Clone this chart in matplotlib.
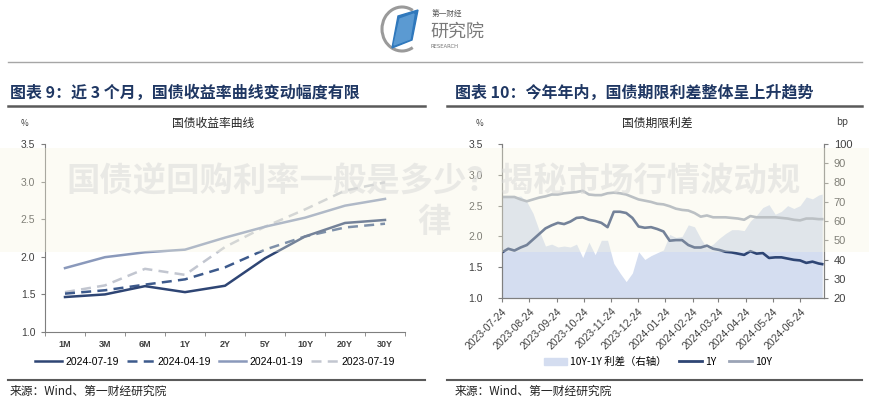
import matplotlib
matplotlib.use("Agg")
import matplotlib.pyplot as plt
import matplotlib.dates as mdates
from matplotlib.patches import Rectangle, Polygon, Patch, Arc
from matplotlib.lines import Line2D
import pandas as pd

plt.rcParams['font.family'] = ['Noto Sans CJK SC', 'DejaVu Sans']

# ---------------- data: left chart ----------------
tenors = ["1M", "3M", "6M", "1Y", "2Y", "5Y", "10Y", "20Y", "30Y"]
curve_20240719 = [1.465, 1.50, 1.61, 1.53, 1.615, 1.98, 2.27, 2.45, 2.49]
curve_20240419 = [1.51, 1.555, 1.63, 1.70, 1.86, 2.095, 2.27, 2.39, 2.44]
curve_20240119 = [1.85, 1.995, 2.06, 2.095, 2.255, 2.40, 2.52, 2.68, 2.77]
curve_20230719 = [1.53, 1.62, 1.84, 1.76, 2.13, 2.40, 2.63, 2.88, 2.99]
curve_labels = ["2024-07-19", "2024-04-19", "2024-01-19", "2023-07-19"]

# ---------------- data: right chart (weekly readings) ----------------
dates = pd.date_range("2023-07-24", periods=52, freq="7D").append(pd.DatetimeIndex(["2024-07-19"]))
y1 = [1.74, 1.80, 1.77, 1.82, 1.86, 1.95, 2.04, 2.13, 2.18, 2.22, 2.20, 2.24, 2.30,
      2.31, 2.27, 2.25, 2.22, 2.15, 2.40, 2.40, 2.38, 2.30, 2.16, 2.14, 2.15, 2.12,
      2.08, 1.93, 1.94, 1.94, 1.86, 1.82, 1.82, 1.85, 1.80, 1.78, 1.75, 1.74, 1.72,
      1.70, 1.76, 1.72, 1.73, 1.65, 1.66, 1.66, 1.64, 1.62, 1.61, 1.57, 1.59, 1.56, 1.55]
y10 = [2.64, 2.64, 2.64, 2.60, 2.57, 2.60, 2.63, 2.65, 2.68, 2.68, 2.70, 2.71, 2.72,
       2.74, 2.68, 2.67, 2.67, 2.70, 2.71, 2.70, 2.68, 2.64, 2.60, 2.58, 2.56, 2.53,
       2.52, 2.49, 2.45, 2.43, 2.42, 2.38, 2.32, 2.34, 2.31, 2.31, 2.31, 2.30, 2.29,
       2.27, 2.33, 2.31, 2.31, 2.31, 2.31, 2.30, 2.29, 2.27, 2.26, 2.29, 2.29, 2.28, 2.28]
spread_bp = [73, 73, 72.5, 73, 70, 64, 55, 47, 48, 46.5, 47, 46.5, 48, 41, 49, 42.5,
             50, 50, 38, 33, 28.5, 33, 44, 40, 42, 43.5, 45, 53, 51.5, 52, 58, 57, 51,
             46, 48, 51, 53.5, 55.5, 55.5, 55, 60, 63, 67, 68.5, 63.5, 65, 68, 66.5,
             68, 72.5, 71.5, 73.5, 74]
month_ticks = pd.date_range("2023-07-01", "2024-06-30", freq="MS") + pd.Timedelta(days=23)

# ---------------- styles ----------------
NAVY = "#2E4574"
MID = "#8A99BB"
LIGHT = "#C2C6D0"
GRID_C = "#7F7F7F"
TXT = "#404040"
AREA = "#D4DDF0"
TEN = "#9BA4B6"
num_font = "Liberation Sans"

W, H = 870, 400
fig = plt.figure(figsize=(W / 100, H / 100), dpi=100)
fig.patch.set_facecolor("white")

def fx(x):
    return x / W

def fy(y):
    return 1 - y / H

# ---------------- logo ----------------
logo_ax = fig.add_axes([fx(380), fy(54), fx(115), 50 / H])
logo_ax.set_xlim(0, 115)
logo_ax.set_ylim(0, 50)
logo_ax.axis("off")
logo_ax.add_patch(Arc((22, 25), 40, 44, theta1=60, theta2=300, color="#9A9A9A", lw=2.2))
logo_ax.add_patch(Polygon([[12, 6], [32, 14], [38, 44], [18, 38]], closed=True, color="#2F78BC"))
logo_ax.add_patch(Polygon([[14, 9], [30, 15], [34, 40], [20, 35]], closed=True, color="#5B9AD2"))
logo_ax.text(52, 40, "第一财经", fontsize=5.5, color="#555555", va="center")
logo_ax.text(50, 22, "研究院", fontsize=13, color="#7A7A7A", va="center")
logo_ax.text(51, 7, "RESEARCH", fontsize=3.8, color="#777777", va="center", family="DejaVu Sans")

# separator line
fig.add_artist(Line2D([fx(8), fx(862)], [fy(62), fy(62)], color="#A6A6A6", lw=1.0))

# titles
fig.text(fx(10), fy(93), "图表 9：近 3 个月，国债收益率曲线变动幅度有限", fontsize=11.5,
         fontweight="bold", color="#1F3763", va="center")
fig.text(fx(455), fy(93), "图表 10：今年年内，国债期限利差整体呈上升趋势", fontsize=11.5,
         fontweight="bold", color="#1F3763", va="center")
for x0, x1 in [(8, 425), (447, 862)]:
    fig.add_artist(Line2D([fx(x0), fx(x1)], [fy(106), fy(106)], color="#5A5A5A", lw=1.8))
    fig.add_artist(Line2D([fx(x0), fx(x1)], [fy(380), fy(380)], color="#5A5A5A", lw=1.5))

fig.text(fx(10), fy(391), "来源：Wind、第一财经研究院", fontsize=8.5, color="#222222", va="center")
fig.text(fx(455), fy(391), "来源：Wind、第一财经研究院", fontsize=8.5, color="#222222", va="center")

# ---------------- left chart ----------------
ax = fig.add_axes([fx(45), fy(332), fx(360), 188 / H])
ax.set_facecolor("none")
xs = list(range(len(tenors)))
ax.plot(xs, curve_20240719, color=NAVY, lw=1.8, label=curve_labels[0], zorder=5)
ax.plot(xs, curve_20240419, color="#3D5A8C", lw=1.8, ls=(0, (4, 2.5)), label=curve_labels[1], zorder=4)
ax.plot(xs, curve_20240119, color=MID, lw=1.8, label=curve_labels[2], zorder=3)
ax.plot(xs, curve_20230719, color=LIGHT, lw=1.8, ls=(0, (4, 2.5)), label=curve_labels[3], zorder=2)
ax.set_xlim(-0.5, len(tenors) - 0.5)
ax.set_ylim(1.0, 3.5)
ax.set_yticks([1.0, 1.5, 2.0, 2.5, 3.0, 3.5])
ax.set_yticklabels([f"{v:.1f}" for v in [1.0, 1.5, 2.0, 2.5, 3.0, 3.5]], fontsize=7.5,
                   color=TXT, family=num_font)
ax.set_xticks(xs)
ax.set_xticklabels(tenors, fontsize=6.5, color=TXT, family=num_font, fontweight="bold")
ax.set_xticks([i - 0.5 for i in range(len(tenors) + 1)], minor=True)
ax.tick_params(axis="x", which="major", length=0, pad=6)
ax.tick_params(axis="x", which="minor", length=3, color=GRID_C, direction="out")
ax.tick_params(axis="y", length=3, color=GRID_C, pad=4)
for s in ["top", "right"]:
    ax.spines[s].set_visible(False)
for s in ["left", "bottom"]:
    ax.spines[s].set_color(GRID_C)
    ax.spines[s].set_linewidth(0.8)
fig.text(fx(213), fy(123), "国债收益率曲线", fontsize=8.5, color="#222222", ha="center", va="center")
fig.text(fx(25), fy(124), "%", fontsize=6, color=TXT, ha="center", va="center")
ax.legend(loc="center", bbox_to_anchor=(fx(215), fy(362)), bbox_transform=fig.transFigure,
          ncol=4, frameon=False, handlelength=2.6, handletextpad=0.3,
          columnspacing=0.8, prop={"family": num_font, "size": 7.5})

# ---------------- right chart ----------------
axr = fig.add_axes([fx(502), fy(298), fx(322), 154 / H])
ax2 = axr.twinx()
axr.set_zorder(ax2.get_zorder() + 1)
axr.patch.set_visible(False)
ax2.set_facecolor("none")
ax2.fill_between(dates, spread_bp, 20, color=AREA, lw=0, label="10Y-1Y 利差（右轴）")
ax2.set_ylim(20, 100)
ax2.set_yticks(range(20, 101, 10))
ax2.set_yticklabels([str(v) for v in range(20, 101, 10)], fontsize=8, color=TXT, family=num_font)
axr.plot(dates, y1, color=NAVY, lw=1.9, label="1Y")
axr.plot(dates, y10, color=TEN, lw=1.9, label="10Y")
axr.set_ylim(1.0, 3.5)
axr.set_yticks([1.0, 1.5, 2.0, 2.5, 3.0, 3.5])
axr.set_yticklabels([f"{v:.1f}" for v in [1.0, 1.5, 2.0, 2.5, 3.0, 3.5]], fontsize=7.5,
                    color=TXT, family=num_font)
axr.set_xlim(pd.Timestamp("2023-07-24"), pd.Timestamp("2024-07-21"))
axr.set_xticks(month_ticks)
axr.xaxis.set_major_formatter(mdates.DateFormatter("%Y-%m-%d"))
plt.setp(axr.get_xticklabels(), rotation=45, ha="right", rotation_mode="anchor",
         fontsize=7.5, color=TXT, family=num_font)
axr.tick_params(axis="x", length=3, color=GRID_C, pad=3)
axr.tick_params(axis="y", length=3, color=GRID_C, pad=11)
ax2.tick_params(axis="y", length=3, color=GRID_C, pad=4)
for a in (axr, ax2):
    a.spines["top"].set_visible(False)
    for s in ["left", "right", "bottom"]:
        a.spines[s].set_color(GRID_C)
        a.spines[s].set_linewidth(0.8)
fig.text(fx(657), fy(123), "国债期限利差", fontsize=8.5, color="#222222", ha="center", va="center")
fig.text(fx(480), fy(124), "%", fontsize=6, color=TXT, ha="center", va="center")
fig.text(fx(842), fy(122), "bp", fontsize=7, color=TXT, ha="center", va="center")
handles = [Patch(color=AREA, label="10Y-1Y 利差（右轴）"),
           Line2D([], [], color=NAVY, lw=2, label="1Y"),
           Line2D([], [], color=TEN, lw=2, label="10Y")]
axr.legend(handles=handles, loc="center", bbox_to_anchor=(fx(658), fy(362)),
           bbox_transform=fig.transFigure, ncol=3, frameon=False, fontsize=7.5,
           handlelength=2.2, handletextpad=0.3, columnspacing=1.2)

# ---------------- watermark band ----------------
fig.add_artist(Rectangle((0, fy(252)), 1, 104 / H, transform=fig.transFigure,
                         facecolor="#F8F6E0", edgecolor="none", alpha=0.35, zorder=10))
fig.text(fx(434), fy(182), "国债逆回购利率一般是多少？揭秘市场行情波动规", fontsize=24,
         fontweight="bold", color="#D8D8D8", alpha=0.5, ha="center", va="center", zorder=11)
fig.text(fx(434), fy(222), "律", fontsize=24, fontweight="bold", color="#D8D8D8",
         alpha=0.5, ha="center", va="center", zorder=11)

fig.savefig("out.png", dpi=100)
